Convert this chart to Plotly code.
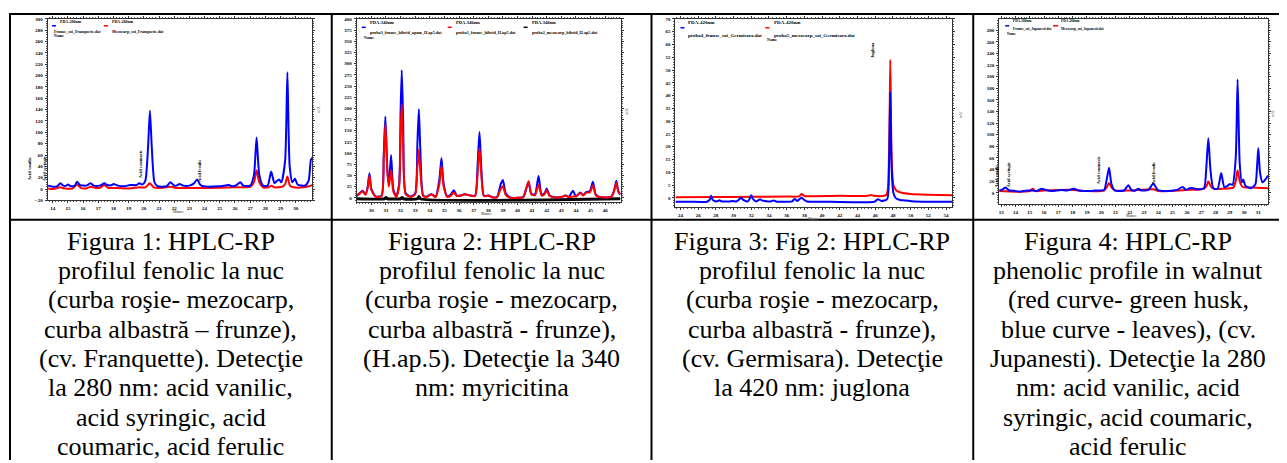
import plotly.graph_objects as go

# page is 1287x463; the browser body has an 8px margin, so the figure is 8px smaller
PAGE_W, PAGE_H = 1287, 463
OFF = 8
W, H = PAGE_W - OFF, PAGE_H - OFF

# ---------------- data ----------------
# Figura 1 - cv. Franquette, 280 nm (minutes, mAU)
f1_blue_t = [13.7, 14.0, 14.3, 14.5, 14.7, 14.9, 15.0, 15.2, 15.45, 15.6, 15.8, 16.2, 16.5, 16.7, 17.1, 17.4, 17.6, 17.9,
             18.0, 18.3, 18.7, 19.1, 19.5, 19.7, 19.9, 20.1, 20.27, 20.4, 20.53, 20.7, 20.9, 21.5, 21.75, 22.0, 22.15,
             22.35, 22.6, 23.0, 23.3, 23.5, 23.7, 23.9, 25.0, 25.6, 25.8, 26.1, 26.35, 26.55, 27.0, 27.25, 27.42, 27.6,
             27.85, 28.15, 28.38, 28.6, 28.75, 28.9, 29.05, 29.3, 29.45, 29.6, 29.78, 29.95, 30.12, 30.6, 30.85, 31.0, 31.1]
f1_blue_v = [6, 4, 5, 10, 6, 6, 8, 5, 6, 13, 7, 6, 10, 6, 6, 10, 7, 7,
             9, 6, 5, 7, 7, 10, 8, 15, 70, 138, 70, 12, 5, 5, 12, 6, 6,
             9, 6, 6, 10, 17, 8, 5, 5, 7, 5, 7, 12, 6, 6, 25, 91, 25,
             6, 6, 31, 10, 14, 17, 12, 50, 206, 40, 12, 18, 8, 6, 15, 52, 55]
f1_red_t = [13.7, 14.0, 14.5, 14.8, 15.3, 15.6, 15.85, 16.2, 16.5, 16.8, 17.1, 17.4, 17.65, 18.0, 19.0, 19.7, 20.1, 20.4,
            20.65, 21.0, 21.8, 22.1, 24.0, 26.0, 27.0, 27.25, 27.42, 27.6, 27.85, 28.2, 28.4, 28.6, 29.1, 29.3, 29.45,
            29.62, 29.85, 30.5, 31.0, 31.1]
f1_red_v = [1, 0, 3, 1, 1, 8, 2, 1, 4, 2, 2, 7, 2, 2, 1, 3, 3, 10,
            3, 2, 4, 2, 2, 3, 4, 12, 33, 12, 3, 3, 6, 3, 4, 9, 22,
            6, 3, 3, 6, 7]

# Figura 2 - H.ap.5, 340 nm
f2_t = [29.0, 29.2, 29.4, 29.6, 29.75, 29.87, 30.0, 30.3, 30.7, 30.85, 30.96, 31.1, 31.2, 31.35, 31.5, 31.7, 31.9, 32.0,
        32.08, 32.18, 32.35, 32.7, 33.0, 33.15, 33.25, 33.35, 33.55, 33.8, 34.1, 34.4, 34.65, 34.8, 34.95, 35.2, 35.45,
        35.64, 35.85, 36.1, 36.4, 36.8, 37.1, 37.28, 37.4, 37.52, 37.7, 38.0, 38.3, 38.6, 38.85, 39.0, 39.2, 39.5, 40.0,
        40.4, 40.6, 40.76, 40.95, 41.2, 41.44, 41.65, 41.85, 42.0, 42.2, 42.6, 43.0, 43.3, 43.5, 43.8, 44.0, 44.3, 44.5,
        44.7, 44.95, 45.16, 45.35, 45.6, 46.0, 46.4, 46.6, 46.76, 46.9, 47.05]
f2_blue_v = [5, 10, 16, 8, 25, 55, 20, 3, 5, 100, 182, 60, 30, 96, 20, 3, 30, 190,
             285, 170, 10, 3, 10, 120, 198, 110, 5, 3, 8, 3, 40, 89, 30, 3, 8,
             17, 5, 5, 8, 5, 5, 80, 147, 70, 5, 5, 1, 2, 30, 40, 10, 1, 0,
             2, 20, 35, 8, 8, 49, 8, 10, 21, 5, 1, 2, 5, 2, 16, 3, 12, 6,
             13, 15, 36, 8, 2, 1, 2, 15, 38, 15, 8]
f2_red_v = [4, 10, 14, 7, 22, 50, 18, 2, 4, 90, 165, 55, 25, 62, 15, 2, 25, 140,
            210, 120, 8, 2, 8, 70, 108, 60, 4, 2, 8, 2, 30, 72, 25, 2, 5,
            12, 4, 5, 8, 5, 4, 60, 112, 55, 4, 5, 1, 1, 20, 26, 6, 0, 0,
            2, 22, 37, 8, 6, 30, 5, 8, 17, 4, 1, 2, 5, 2, 3, 3, 11, 5,
            12, 12, 28, 6, 2, 1, 2, 14, 33, 13, 7]
f2_black_t = [29.0, 30.9, 31.0, 31.1, 32.0, 32.1, 32.2, 33.15, 33.25, 33.35, 47.05]
f2_black_v = [-2, -2, 1, -2, -2, 1, -2, -2, 3, -2, -2]

# Figura 3 - cv. Germisara, 420 nm
f3_blue_t = [23.44, 25.0, 27.0, 27.3, 27.46, 27.65, 28.0, 28.25, 28.4, 28.6, 29.5, 29.9, 30.3, 30.6, 30.85, 31.1, 31.6,
             31.8, 32.0, 32.2, 32.6, 32.85, 33.0, 33.2, 34.2, 34.5, 34.8, 36.6, 36.9, 37.2, 37.45, 37.7, 37.95, 38.3,
             40.0, 45.9, 46.3, 46.7, 47.35, 47.55, 47.7, 47.85, 48.05, 48.35, 48.8, 49.3, 50.5, 54.7]
f3_blue_v = [-1.5, -1.5, -1.5, -0.8, 0.8, -0.8, -1.4, -1.2, -0.9, -1.3, -1.4, -1.2, -1.4, -0.7, 0.0, -0.8, -1.4,
             -0.5, 1.0, -0.5, -1.4, -0.8, -0.5, -1.0, -1.4, -1.0, -1.4, -1.4, -0.4, -1.2, -0.5, 0.0, -0.7, -1.4,
             -1.5, -1.5, -0.5, -1.2, -0.5, 12, 41.5, 12, 2, -0.2, -0.8, -1.0, -1.4, -1.5]
f3_red_t = [23.44, 28.0, 32.0, 36.0, 37.4, 37.7, 38.0, 38.5, 42.0, 45.2, 45.5, 45.8, 47.25, 47.55, 47.7, 47.85, 48.05,
            48.35, 48.8, 50.0, 52.0, 54.7]
f3_red_v = [0.2, 0.3, 0.4, 0.5, 0.6, 1.5, 0.7, 0.6, 0.8, 0.8, 1.1, 0.8, 1.2, 16, 54, 16, 5, 3, 2.2, 1.5, 1.2, 1.0]

# Figura 4 - cv. Jupanesti, 280 nm
f4_blue_t = [12.86, 13.1, 13.3, 13.55, 13.9, 14.3, 14.8, 15.2, 15.5, 15.8, 16.1, 16.5, 17.2, 17.6, 18.1, 18.4, 19.0,
             19.6, 20.2, 20.4, 20.55, 20.72, 20.95, 21.6, 21.9, 22.15, 22.4, 22.6, 22.8, 23.3, 23.65, 23.95, 24.5,
             25.3, 25.7, 25.95, 26.2, 26.45, 26.7, 27.2, 27.35, 27.5, 27.65, 27.85, 28.15, 28.4, 28.62, 28.85, 29.0,
             29.2, 29.42, 29.55, 29.7, 29.85, 29.95, 30.1, 30.5, 30.8, 30.9, 31.0, 31.12, 31.3, 31.5, 31.68]
f4_blue_v = [4, 6, 9, 4, 3.5, 2, 4, 4, 3, 7, 5, 3, 5, 4, 7, 4, 3,
             4, 5, 25, 43, 15, 4, 4, 13, 4, 4, 7, 4, 5, 16, 5, 3,
             5, 10, 5, 8, 8, 6, 8, 40, 94, 40, 8, 7, 34, 10, 12, 15,
             14, 60, 195, 50, 18, 23, 12, 8, 15, 40, 77, 35, 18, 23, 30]
f4_red_t = [12.86, 14.0, 15.0, 15.2, 15.4, 16.0, 17.0, 18.1, 19.0, 20.2, 20.4, 20.55, 20.75, 21.0, 22.0, 23.65, 24.0,
            26.0, 27.2, 27.38, 27.5, 27.65, 27.9, 28.5, 29.25, 29.42, 29.55, 29.7, 29.9, 30.5, 31.68]
f4_red_v = [3, 2, 3, 7, 3, 4, 5, 5, 3, 4, 10, 17, 8, 4, 4, 6, 3,
            5, 7, 12, 20, 12, 7, 7, 9, 20, 39, 20, 10, 9, 8]

# tick values
f1_xticks = list(range(14, 31))
f1_yticks = list(range(-20, 301, 20))
f2_xticks = list(range(30, 47))
f2_yticks = list(range(0, 401, 25))
f3_xticks = list(range(24, 55, 2))
f3_yticks = list(range(0, 71, 5))
f4_xticks = list(range(13, 32))
f4_yticks = list(range(0, 281, 20))

# captions
captions = [
    ["Figura 1: HPLC-RP", "profilul fenolic la nuc", "(curba roşie- mezocarp,", "curba albastră – frunze),",
     "(cv. Franquette). Detecţie", "la 280 nm: acid vanilic,", "acid syringic, acid", "coumaric, acid ferulic"],
    ["Figura 2: HPLC-RP", "profilul fenolic la nuc", "(curba roşie - mezocarp,", "curba albastră - frunze),",
     "(H.ap.5). Detecţie la 340", "nm: myricitina"],
    ["Figura 3: Fig 2: HPLC-RP", "profilul fenolic la nuc", "(curba roşie - mezocarp,", "curba albastră - frunze),",
     "(cv. Germisara). Detecţie", "la 420 nm: juglona"],
    ["Figura 4: HPLC-RP", "phenolic profile in walnut", "(red curve- green husk,", "blue curve - leaves), (cv.",
     "Jupanesti). Detecţie la 280", "nm: acid vanilic, acid", "syringic, acid coumaric,", "acid ferulic"],
]

# ---------------- helpers (page pixels -> paper fractions) ----------------
def X(px):
    return (px - OFF) / W


def Y(py):
    return 1 - (py - OFF) / H


BLUE, RED, BLACK = "#0000ff", "#ff0000", "#000000"
fig = go.Figure()


def add_line(t, v, color, k, width=2):
    fig.add_trace(go.Scatter(x=t, y=v, mode="lines", xaxis="x" + ("" if k == 1 else str(k)),
                             yaxis="y" + ("" if k == 1 else str(k)),
                             line=dict(color=color, width=width, shape="spline", smoothing=0.6),
                             hoverinfo="skip", showlegend=False))


add_line(f1_red_t, f1_red_v, RED, 1)
add_line(f1_blue_t, f1_blue_v, BLUE, 1)
add_line(f2_black_t, f2_black_v, BLACK, 2, 3)
add_line(f2_t, f2_blue_v, BLUE, 2)
add_line(f2_t, f2_red_v, RED, 2)
add_line(f3_red_t, f3_red_v, RED, 3)
add_line(f3_blue_t, f3_blue_v, BLUE, 3)
add_line(f4_red_t, f4_red_v, RED, 4)
add_line(f4_blue_t, f4_blue_v, BLUE, 4)

tickfont = dict(family="Liberation Serif", size=5, color="black", weight="bold")

# plot-area boxes in page pixels: (left, right, top, bottom)
boxes = [(46.7, 311.7, 17, 200.5), (356, 620, 17, 202), (675, 952, 17, 207), (999, 1268, 17, 204)]
xranges = [[13.67, 31.1], [29.0, 47.05], [23.44, 54.7], [12.86, 31.68]]
yranges = [[-20, 300], [-9, 400], [-3.5, 70], [-19, 299.5]]
xticks = [f1_xticks, f2_xticks, f3_xticks, f4_xticks]
yticks = [f1_yticks, f2_yticks, f3_yticks, f4_yticks]
xminor = [0.2, 0.2, 0.4, 0.2]
yminor = [4, 5, 1, 4]

layout = dict(width=W, height=H, margin=dict(l=0, r=0, t=0, b=0), autosize=False,
              paper_bgcolor="white", plot_bgcolor="white", showlegend=False)
for k in range(4):
    l, r, t, b = boxes[k]
    sx = "xaxis" if k == 0 else "xaxis%d" % (k + 1)
    sy = "yaxis" if k == 0 else "yaxis%d" % (k + 1)
    ax_x = "x" if k == 0 else "x%d" % (k + 1)
    ax_y = "y" if k == 0 else "y%d" % (k + 1)
    layout[sx] = dict(domain=[X(l), X(r)], range=xranges[k], anchor=ax_y, showgrid=False, zeroline=False,
                      showline=True, linecolor="#333", linewidth=1, mirror="ticks", ticks="outside", ticklen=2,
                      tickwidth=1, tickcolor="#333", tickmode="array", tickvals=xticks[k], tickfont=tickfont,
                      minor=dict(ticks="outside", ticklen=1, tickwidth=1, tickcolor="#555",
                                 tickmode="linear", tick0=0, dtick=xminor[k]),
                      ticklabelstandoff=1, fixedrange=True)
    layout[sy] = dict(domain=[Y(b), Y(t)], range=yranges[k], anchor=ax_x, showgrid=False, zeroline=False,
                      showline=True, linecolor="#333", linewidth=1, mirror="ticks", ticks="outside", ticklen=2,
                      tickwidth=1, tickcolor="#333", tickmode="array", tickvals=yticks[k], tickfont=tickfont,
                      minor=dict(ticks="outside", ticklen=1, tickwidth=1, tickcolor="#555",
                                 tickmode="linear", tick0=0, dtick=yminor[k]),
                      ticklabelstandoff=1, fixedrange=True)
fig.update_layout(**layout)

ann = []
shapes = []


def txt(x, y, s, size=4, angle=0, color="black", xanchor="left", bold=True, family="Liberation Serif"):
    ann.append(dict(x=X(x), y=Y(y), xref="paper", yref="paper", text=s, showarrow=False, textangle=angle,
                    xanchor=xanchor, yanchor="middle",
                    font=dict(family=family, size=size, color=color, weight="bold" if bold else "normal")))


def legline(x0, x1, y, color):
    shapes.append(dict(type="line", xref="paper", yref="paper", x0=X(x0), x1=X(x1), y0=Y(y), y1=Y(y),
                       line=dict(color=color, width=1.5)))


# legends
legline(51, 55, 24, BLUE); txt(57, 20, "PDA-280nm"); txt(51, 29.5, "Frunze_soi_Franquette.dat"); txt(51, 33.5, "Name")
legline(103, 107, 24, RED); txt(109, 20, "PDA-280nm"); txt(109, 29.5, "Mezocarp_soi_Franquette.dat")

legline(361, 365, 25.5, BLUE); txt(367, 21, "PDA-340nm", 4.5); txt(367, 30.5, "proba3_frunze_hibrid_apom_H.ap5.dat", 4.2)
txt(361, 35.5, "Name", 4)
legline(447, 451, 25.5, RED); txt(453, 21, "PDA-340nm", 4.5); txt(453, 30.5, "proba1_frunze_hibrid_H.ap5.dat", 4.2)
legline(523, 527, 25.5, BLACK); txt(529, 21, "PDA-340nm", 4.5); txt(529, 30.5, "proba2_mezocarp_hibrid_H.ap5.dat", 4.2)

legline(680, 684, 26, BLUE); txt(686, 21, "PDA-420nm", 5); txt(686, 33.5, "proba4_frunze_soi_Germisara.dat", 5)
legline(765, 769, 26, RED); txt(772, 21, "PDA-420nm", 5); txt(772, 33.5, "proba5_mezocarp_soi_Germisara.dat", 5)
txt(765, 37.5, "Name", 4)

legline(1005, 1009, 24, BLUE); txt(1011, 19, "PDA-280nm", 3.5); txt(1011, 27.7, "Frunze_soi_Jupanesti.dat", 3.5)
txt(1005, 32, "Name", 3.5)
legline(1053, 1058, 24, RED); txt(1059, 19, "PDA-280nm", 3.5); txt(1059, 27.7, "Mezocarp_soi_Jupanesti.dat", 3.5)

# peak labels (rotated)
txt(28, 168, "Acid vanilic", 4.5, -90, xanchor="center")
txt(43, 168, "Acid syringic", 4.5, -90, xanchor="center")
txt(139, 164, "Acid coumaric", 4.5, -90, xanchor="center")
txt(198, 170, "Acid ferulic", 4.5, -90, xanchor="center")
txt(872, 48, "Juglona", 4.5, -90, xanchor="center")
txt(996, 176, "Acid vanilic", 4.5, -90, xanchor="center")
txt(1008, 175, "Acid syringic", 4.5, -90, xanchor="center")
txt(1098, 170, "Acid coumaric", 4.5, -90, xanchor="center")
txt(1153, 173, "Acid ferulic", 4.5, -90, xanchor="center")

# axis titles (tiny)
for (xx, yy) in [(178, 212.5), (486, 214.5), (813, 219), (1131, 216.5)]:
    txt(xx, yy, "Minutes", 3, color="#666", xanchor="center")
for (xx, yy) in [(318, 108), (626, 110), (961, 113), (1273, 112)]:
    txt(xx, yy, "mAU", 3, -90, color="#888", xanchor="center")

# captions
col_centers = [170, 491, 812, 1128]
for c, lines in enumerate(captions):
    for i, s in enumerate(lines):
        txt(col_centers[c], 242 + i * 29.6, s, 26, xanchor="center", bold=False)

# table grid
def hline(y, x0, x1):
    shapes.append(dict(type="line", xref="paper", yref="paper", x0=X(x0), x1=X(x1), y0=Y(y), y1=Y(y),
                       line=dict(color="black", width=2)))


def vline(x, y0, y1):
    shapes.append(dict(type="line", xref="paper", yref="paper", x0=X(x), x1=X(x), y0=Y(y0), y1=Y(y1),
                       line=dict(color="black", width=2)))


hline(12, 8, 1284)
hline(220, 8, 1284)
for xx in [9, 331, 651, 973, 1283]:
    vline(xx, 11, 463)

fig.update_layout(annotations=ann, shapes=shapes)
fig.write_html("out.html")
